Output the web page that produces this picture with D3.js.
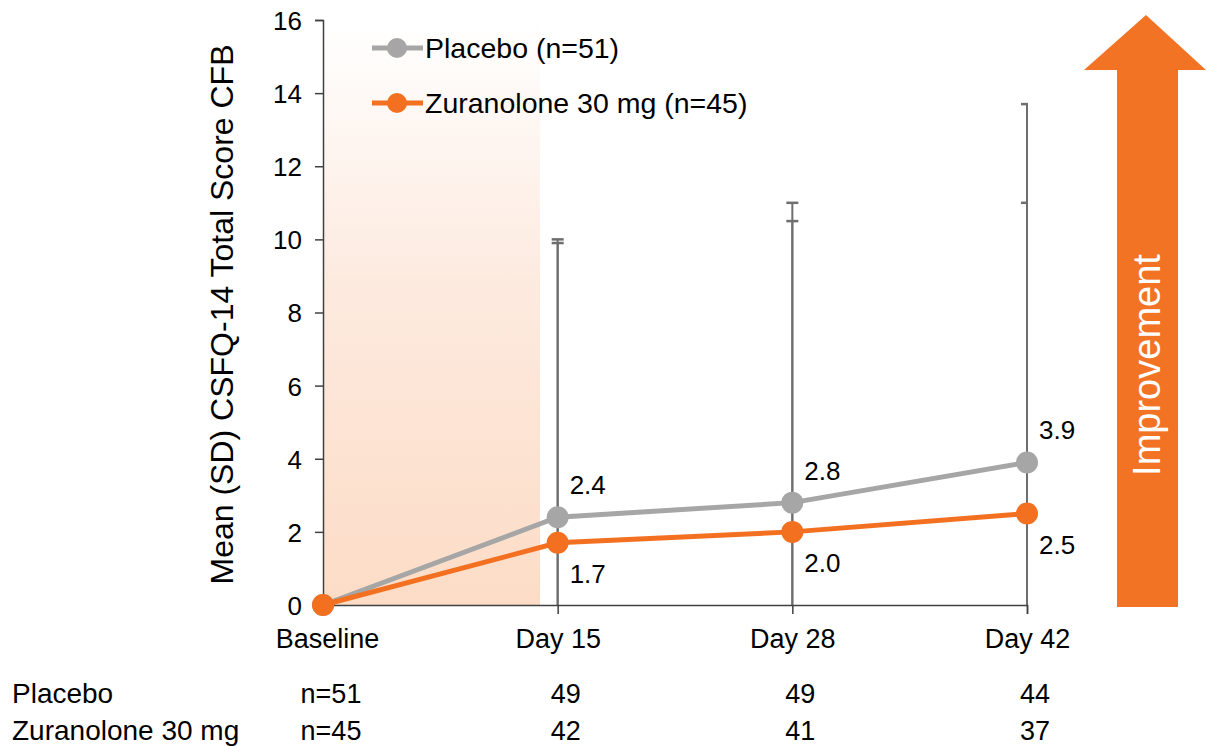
<!DOCTYPE html>
<html>
<head>
<meta charset="utf-8">
<script src="https://cdn.jsdelivr.net/npm/d3@7"></script>
<style>
  html, body { margin: 0; padding: 0; background: #fff; }
  svg text { font-family: "Liberation Sans", Arial, sans-serif; fill: #000; }
</style>
</head>
<body>
<svg id="chart" width="1206" height="746"></svg>
<script>
const categories = ["Baseline", "Day 15", "Day 28", "Day 42"];
const placeboMean = [0, 2.4, 2.8, 3.9];
const placeboSD = [0, 7.6, 8.2, 9.8];
const zuraMean = [0, 1.7, 2.0, 2.5];
const zuraSD = [0, 8.2, 8.5, 8.5];
const yTicks = [0, 2, 4, 6, 8, 10, 12, 14, 16];
const placeboN = ["n=51", "49", "49", "44"];
const zuraN = ["n=45", "42", "41", "37"];

const series = [
  { name: "Placebo (n=51)", rowLabel: "Placebo", mean: placeboMean, sd: placeboSD, n: placeboN, color: "#a6a6a6" },
  { name: "Zuranolone 30 mg (n=45)", rowLabel: "Zuranolone 30 mg", mean: zuraMean, sd: zuraSD, n: zuraN, color: "#f37021" },
];

const svg = d3.select("#chart");
const plotL = 323, plotR = 1027, plotT = 20, plotB = 605;

const x = d3.scalePoint().domain(categories).range([plotL, plotR]);
const y = d3.scaleLinear().domain([0, 16]).range([plotB, plotT]);

// shaded treatment period
const defs = svg.append("defs");
const grad = defs.append("linearGradient").attr("id", "shade")
  .attr("x1", 0).attr("y1", 1).attr("x2", 0).attr("y2", 0);
grad.append("stop").attr("offset", "0%").attr("stop-color", "#fcdcc6");
grad.append("stop").attr("offset", "55%").attr("stop-color", "#fdeadf");
grad.append("stop").attr("offset", "100%").attr("stop-color", "#ffffff");
svg.append("rect")
  .attr("x", plotL).attr("y", plotT)
  .attr("width", 540 - plotL).attr("height", plotB - plotT)
  .attr("fill", "url(#shade)");

defs.append("clipPath").attr("id", "plotClip")
  .append("rect").attr("x", 0).attr("y", 0).attr("width", plotR + 1).attr("height", 746);

// error bars (clipped at plot edge, like the source)
const errG = svg.append("g").attr("clip-path", "url(#plotClip)");
series.forEach(s => {
  categories.forEach((c, i) => {
    if (!s.sd[i]) return;
    const hi = s.mean[i] + s.sd[i], lo = Math.max(0, s.mean[i] - s.sd[i]);
    errG.append("line")
      .attr("x1", x(c)).attr("x2", x(c))
      .attr("y1", y(lo)).attr("y2", y(hi))
      .attr("stroke", "#6e6e6e").attr("stroke-width", 2);
    errG.append("line")
      .attr("x1", x(c) - 6).attr("x2", x(c) + 6)
      .attr("y1", y(hi)).attr("y2", y(hi))
      .attr("stroke", "#6e6e6e").attr("stroke-width", 2.5);
  });
});

// axes
const yAxis = svg.append("g")
  .attr("transform", `translate(${plotL},0)`)
  .call(d3.axisLeft(y).tickValues(yTicks).tickSize(8).tickPadding(13).tickFormat(d3.format("d")));
const xAxis = svg.append("g")
  .attr("transform", `translate(0,${plotB})`)
  .call(d3.axisBottom(x).tickSize(9).tickPadding(15));
[yAxis, xAxis].forEach(a => {
  a.select(".domain").attr("stroke", "#404040").attr("stroke-width", 1.5);
  a.selectAll(".tick line").attr("stroke", "#404040").attr("stroke-width", 1.5);
  a.selectAll(".tick text").style("font-size", "26px").style("font-family", "Liberation Sans, Arial, sans-serif").attr("fill", "#000");
});
xAxis.selectAll(".tick text").style("font-size", "27px");
yAxis.selectAll(".tick text").attr("dy", "0.36em");
xAxis.selectAll(".tick").filter(d => d === "Baseline").select("line").remove();
xAxis.selectAll(".tick").filter(d => d === "Baseline").select("text").attr("dx", 4);

svg.append("text")
  .attr("transform", `translate(233,${(plotT + plotB) / 2 + 2}) rotate(-90)`)
  .attr("text-anchor", "middle")
  .style("font-size", "32px")
  .text("Mean (SD) CSFQ-14 Total Score CFB");

// lines and points
const line = d3.line().x((d, i) => x(categories[i])).y(d => y(d));
series.forEach(s => {
  svg.append("path")
    .datum(s.mean)
    .attr("d", line)
    .attr("fill", "none")
    .attr("stroke", s.color)
    .attr("stroke-width", 5);
  svg.selectAll(null)
    .data(s.mean)
    .enter()
    .append("circle")
    .attr("cx", (d, i) => x(categories[i]))
    .attr("cy", d => y(d))
    .attr("r", 11)
    .attr("fill", s.color);
});

// value labels
const fmt = d3.format(".1f");
series.forEach((s, si) => {
  s.mean.forEach((v, i) => {
    if (i === 0) return;
    svg.append("text")
      .attr("x", x(categories[i]) + 12)
      .attr("y", si === 0 ? y(v) - 23 : y(v) + 40)
      .style("font-size", "26px")
      .text(fmt(v));
  });
});

// legend
series.forEach((s, i) => {
  const ly = 48 + i * 55;
  svg.append("line")
    .attr("x1", 372).attr("x2", 423).attr("y1", ly).attr("y2", ly)
    .attr("stroke", s.color).attr("stroke-width", 5);
  svg.append("circle").attr("cx", 397).attr("cy", ly).attr("r", 10).attr("fill", s.color);
  svg.append("text")
    .attr("x", 425).attr("y", ly + 10)
    .style("font-size", "28.5px")
    .text(s.name);
});

// improvement arrow
svg.append("path")
  .attr("d", "M1117,607 L1117,70 L1084,70 L1146,15 L1206,70 L1178,70 L1178,607 Z")
  .attr("fill", "#f37325");
svg.append("text")
  .attr("transform", "translate(1160,365) rotate(-90)")
  .attr("text-anchor", "middle")
  .style("font-size", "38px")
  .style("fill", "#fff")
  .text("Improvement");

// n table
series.forEach((s, si) => {
  const ty = 703 + si * 37;
  svg.append("text").attr("x", 12).attr("y", ty).style("font-size", "28px").text(s.rowLabel);
  s.n.forEach((v, i) => {
    svg.append("text")
      .attr("x", x(categories[i]) + 8)
      .attr("y", ty)
      .attr("text-anchor", "middle")
      .style("font-size", "27px")
      .text(v);
  });
});
</script>
</body>
</html>
